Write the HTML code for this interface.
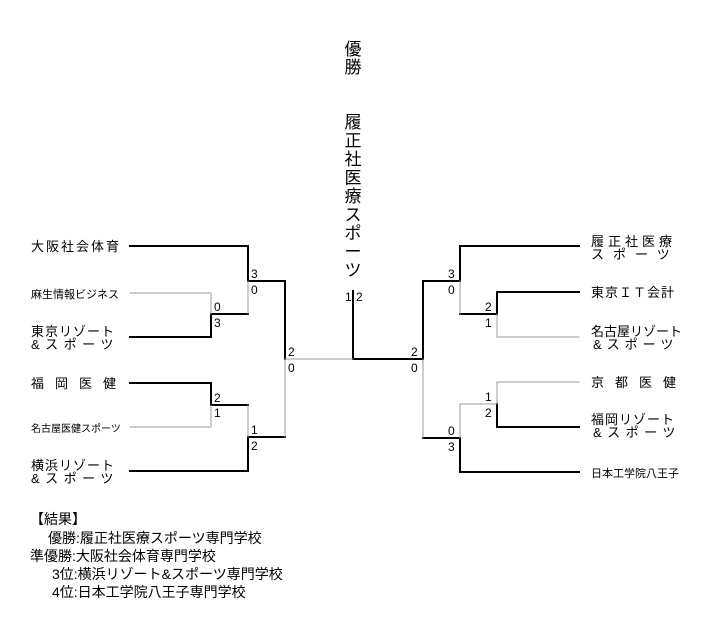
<!DOCTYPE html>
<html><head><meta charset="utf-8"><style>
body{margin:0;background:#fff;width:708px;height:623px;overflow:hidden}
svg{font-family:"Liberation Sans","Noto Sans CJK JP",sans-serif}
</style></head><body>
<svg width="708" height="623" viewBox="0 0 708 623" xmlns="http://www.w3.org/2000/svg">
<g fill="none" stroke-linecap="square">
<g stroke="#000" stroke-width="2">
<polyline points="130,246 248,246 248,281 285,281 285,359"/>
<polyline points="130,337 211,337 211,314 248,314"/>
<polyline points="130,383 211,383 211,405 248,405"/>
<polyline points="130,471 248,471 248,437 285,437"/>
<polyline points="353,291 353,359 423,359 423,281 460,281 460,246 579,246"/>
<polyline points="460,314 497,314 497,292 579,292"/>
<polyline points="423,438 460,438 460,472 579,472"/>
<polyline points="497,404 497,427 579,427"/>
</g>
<g stroke="#999" stroke-width="1">
<polyline points="130,293 211,293 211,314"/>
<polyline points="130,427 211,427 211,405"/>
<polyline points="248,281 248,314"/>
<polyline points="248,405 248,437"/>
<polyline points="285,359 285,437"/>
<polyline points="285,359 353,359"/>
<polyline points="423,359 423,438"/>
<polyline points="460,281 460,314"/>
<polyline points="497,314 497,337 579,337"/>
<polyline points="460,438 460,404 497,404 497,382 579,382"/>
</g>
</g>
<g font-size="13" fill="#000">
<text x="31" y="251" letter-spacing="2">大阪社会体育</text>
<text x="31" y="298" font-size="11">麻生情報ビジネス</text>
<text x="31" y="336" letter-spacing="1">東京リゾート</text>
<text x="31" y="349" letter-spacing="5.5">&amp;スポーツ</text>
<text x="31" y="388" letter-spacing="11">福岡医健</text>
<text x="31" y="432" font-size="10">名古屋医健スポーツ</text>
<text x="31" y="470" letter-spacing="1">横浜リゾート</text>
<text x="31" y="483" letter-spacing="5.5">&amp;スポーツ</text>
<text x="591" y="246" letter-spacing="4">履正社医療</text>
<text x="591" y="259" letter-spacing="9">スポーツ</text>
<text x="591" y="297" letter-spacing="1">東京ＩＴ会計</text>
<text x="591" y="336">名古屋リゾート</text>
<text x="593" y="349" letter-spacing="5">&amp;スポーツ</text>
<text x="591" y="387" letter-spacing="11">京都医健</text>
<text x="591" y="424" letter-spacing="1">福岡リゾート</text>
<text x="593" y="437" letter-spacing="5.5">&amp;スポーツ</text>
<text x="591" y="477" font-size="11">日本工学院八王子</text>
</g>
<g font-size="12" fill="#000">
<text x="251" y="278">3</text><text x="251" y="294">0</text>
<text x="214" y="311">0</text><text x="214" y="327">3</text>
<text x="288" y="356">2</text><text x="288" y="372">0</text>
<text x="214" y="402">2</text><text x="214" y="417">1</text>
<text x="251" y="434">1</text><text x="251" y="450">2</text>
<text x="345" y="301">1</text><text x="356" y="301">2</text>
<text x="411" y="356">2</text><text x="411" y="372">0</text>
<text x="448" y="278">3</text><text x="448" y="294">0</text>
<text x="485" y="311">2</text><text x="485" y="327">1</text>
<text x="485" y="401">1</text><text x="485" y="417">2</text>
<text x="448" y="435">0</text><text x="448" y="451">3</text>
</g>
<g font-size="17" fill="#000" text-anchor="middle">
<text x="353" y="55">優</text><text x="353" y="73">勝</text>
<text x="353" y="128">履</text><text x="353" y="146.5">正</text><text x="353" y="165">社</text>
<text x="353" y="183.5">医</text><text x="353" y="202">療</text><text x="353" y="220.5">ス</text>
<text x="353" y="239">ポ</text><text x="353" y="257.5">ー</text><text x="353" y="276">ツ</text>
</g>
<g font-size="14" fill="#000">
<text x="30" y="524">【結果】</text>
<text x="48" y="543">優勝:履正社医療スポーツ専門学校</text>
<text x="30" y="561">準優勝:大阪社会体育専門学校</text>
<text x="52" y="579">3位:横浜リゾート&amp;スポーツ専門学校</text>
<text x="52" y="597">4位:日本工学院八王子専門学校</text>
</g>
</svg>
</body></html>
